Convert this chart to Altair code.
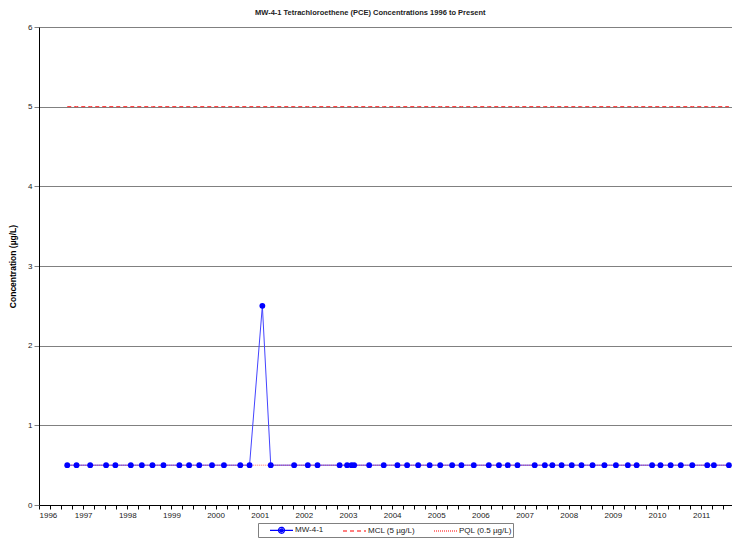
import altair as alt
import pandas as pd

# Sample dates (decimal years) and PCE concentrations (µg/L) for MW-4-1
dates = [1996.64, 1996.85, 1997.16, 1997.52, 1997.73, 1998.08, 1998.33, 1998.57,
         1998.82, 1999.18, 1999.40, 1999.63, 1999.92, 2000.19, 2000.56, 2000.77,
         2001.06, 2001.25, 2001.78, 2002.09, 2002.31, 2002.81, 2002.98, 2003.08,
         2003.14, 2003.48, 2003.81, 2004.12, 2004.34, 2004.59, 2004.85, 2005.09,
         2005.36, 2005.57, 2005.85, 2006.19, 2006.42, 2006.62, 2006.84, 2007.23,
         2007.46, 2007.63, 2007.84, 2008.07, 2008.29, 2008.54, 2008.81, 2009.07,
         2009.34, 2009.54, 2009.89, 2010.08, 2010.31, 2010.54, 2010.80, 2011.14,
         2011.29, 2011.63]
mw41 = [0.5, 0.5, 0.5, 0.5, 0.5, 0.5, 0.5, 0.5,
        0.5, 0.5, 0.5, 0.5, 0.5, 0.5, 0.5, 0.5,
        2.5, 0.5, 0.5, 0.5, 0.5, 0.5, 0.5, 0.5,
        0.5, 0.5, 0.5, 0.5, 0.5, 0.5, 0.5, 0.5,
        0.5, 0.5, 0.5, 0.5, 0.5, 0.5, 0.5, 0.5,
        0.5, 0.5, 0.5, 0.5, 0.5, 0.5, 0.5, 0.5,
        0.5, 0.5, 0.5, 0.5, 0.5, 0.5, 0.5, 0.5,
        0.5, 0.5]
mcl_value = 5.0
pql_value = 0.5

series = ["MW-4-1", "MCL (5 µg/L)", "PQL (0.5 µg/L)"]
year_ticks = [1996, 1997, 1998, 1999, 2000, 2001, 2002, 2003, 2004, 2005,
              2006, 2007, 2008, 2009, 2010, 2011]
y_ticks = [0, 1, 2, 3, 4, 5, 6]

rows = []
for d, v in zip(dates, mw41):
    rows.append({"date": d, "value": v, "series": series[0]})
for d in dates:
    rows.append({"date": d, "value": mcl_value, "series": series[1]})
for d in dates:
    rows.append({"date": d, "value": pql_value, "series": series[2]})
df = pd.DataFrame(rows)

# quarter tick positions derived from the year ticks
quarter_ticks = []
for y in year_ticks:
    for q in (0, 0.25, 0.5, 0.75):
        if y + q <= 2011.7:
            quarter_ticks.append(y + q)

FONT = "Liberation Sans"

x_enc = alt.X("date:Q", scale=alt.Scale(domain=[1996, 2011.7], nice=False, zero=False),
              axis=alt.Axis(title=None, values=quarter_ticks,
                            labelExpr="datum.value % 1 == 0 ? format(datum.value, 'd') : ''",
                            grid=False, tickSize=4, tickColor="black", domainColor="black",
                            labelFontSize=8, labelFont=FONT, labelColor="#222",
                            labelPadding=2, labelOverlap=False))
y_enc = alt.Y("value:Q", scale=alt.Scale(domain=[0, 6], nice=False),
              axis=alt.Axis(title="Concentration (µg/L)", values=y_ticks, format="d",
                            grid=True, gridColor="#808080", gridWidth=1,
                            tickSize=5, tickColor="#808080", domainColor="black",
                            labelFontSize=8, labelFont=FONT, labelColor="#222",
                            titleFontSize=8.5, titleFont=FONT, titleFontWeight="bold",
                            titlePadding=10, labelPadding=2))

base = alt.Chart(df)

mcl_line = base.transform_filter(alt.datum.series == series[1]).mark_line(
    color="#FF2020", strokeDash=[4, 3], strokeWidth=1).encode(x=x_enc, y=y_enc)
mw_line = base.transform_filter(alt.datum.series == series[0]).mark_line(
    color="#4444FF", strokeWidth=1).encode(x=x_enc, y=y_enc)
pql_line = base.transform_filter(alt.datum.series == series[2]).mark_line(
    color="#FF0000", strokeDash=[1, 1], strokeWidth=1, opacity=0.6).encode(x=x_enc, y=y_enc)
mw_pts = base.transform_filter(alt.datum.series == series[0]).mark_circle(
    color="#0000FF", size=34, opacity=1).encode(x=x_enc, y=y_enc)

# legend symbols: symbolSize 100 -> 1 unit = 5 px
dot_path = ("M1,0L5.6,0 "
            "M2.7,0a0.6,0.6 0 1,0 1.2,0a0.6,0.6 0 1,0 -1.2,0 "
            "M3.0,0a0.3,0.3 0 1,0 0.6,0a0.3,0.3 0 1,0 -0.6,0 "
            "M3.25,0a0.05,0.05 0 1,0 0.1,0a0.05,0.05 0 1,0 -0.1,0")
line_path = "M1,0L5.6,0"

legend_df = pd.DataFrame({"series": series})
legend_layer = alt.Chart(legend_df).mark_point(filled=False, opacity=0, strokeWidth=1.2).encode(
    color=alt.Color("series:N", scale=alt.Scale(domain=series, range=["#0000FF", "#FF0000", "#FF0000"]),
                    legend=alt.Legend(title=None, orient="none", legendX=219, legendY=496,
                                      direction="horizontal", symbolOpacity=1, symbolSize=100,
                                      symbolStrokeWidth=1.2, labelFontSize=8, labelFont=FONT,
                                      labelColor="#222", columnPadding=8, labelOffset=24,
                                      strokeColor="#808080", padding=1, offset=0)),
    shape=alt.Shape("series:N", scale=alt.Scale(domain=series, range=[dot_path, line_path, line_path])),
    strokeDash=alt.StrokeDash("series:N", scale=alt.Scale(domain=series, range=[[1, 0], [4, 3], [1, 1]])),
)

chart = alt.layer(mcl_line, mw_line, pql_line, mw_pts, legend_layer).properties(
    width=693, height=478,
    padding=0,
    title=alt.TitleParams("MW-4-1 Tetrachloroethene (PCE) Concentrations 1996 to Present",
                          fontSize=7.5, font=FONT, fontWeight="bold", anchor="middle",
                          frame="bounds", offset=7, color="#222"),
).configure_view(stroke=None).configure(background="white")

chart.save("out.html", embed_options={"renderer": "svg", "actions": False})
